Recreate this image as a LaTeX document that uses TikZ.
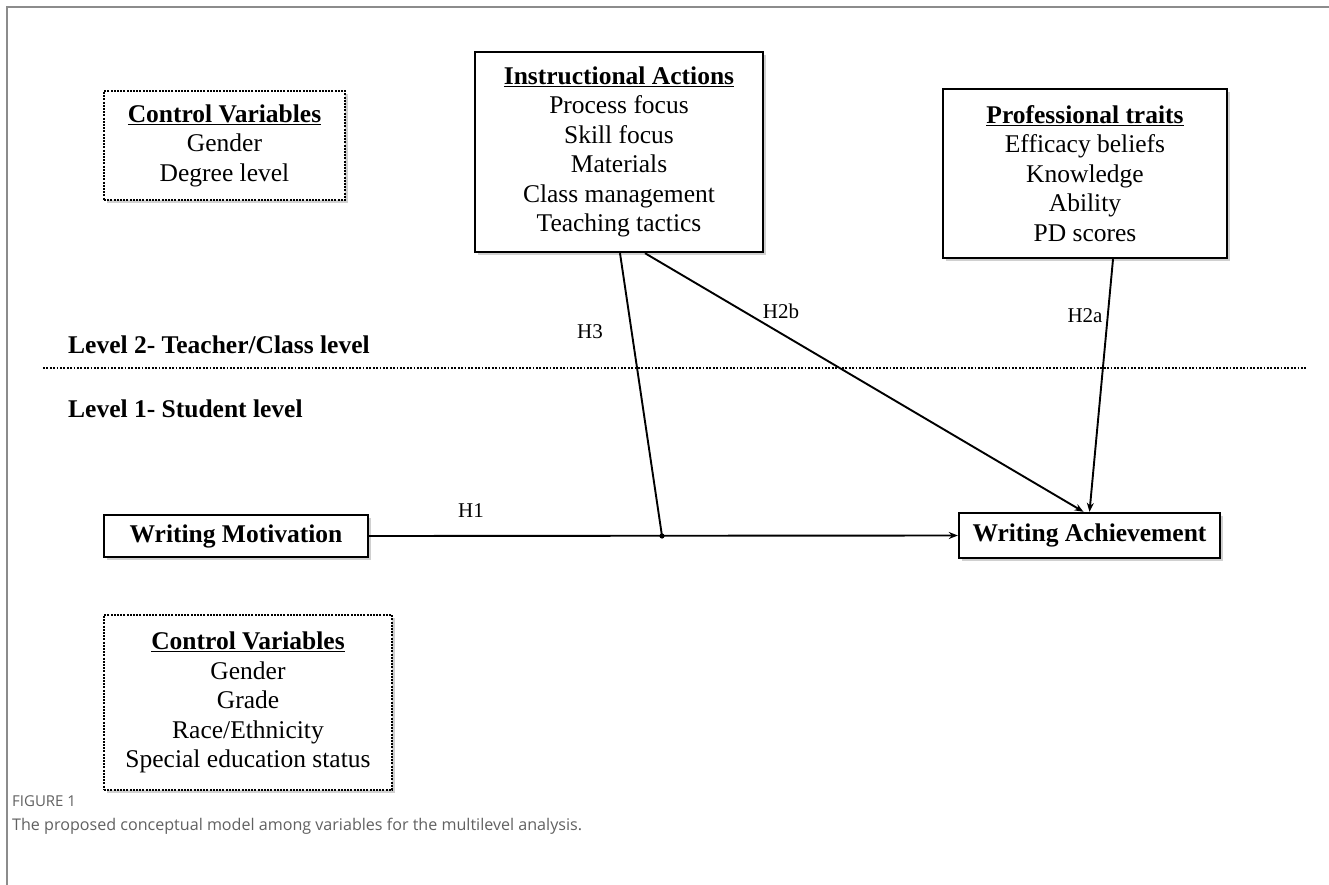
\documentclass[tikz,border=0pt]{standalone}
\usepackage{fontspec}
\setmainfont{Liberation Serif}
\newfontfamily\capfont{Open Sans}
\usetikzlibrary{arrows.meta,shadows,calc}
\tikzset{
  diagtext/.style={font=\fontsize{25.5}{29.5}\selectfont, align=center, inner sep=0pt},
  shad/.style={drop shadow={shadow xshift=3pt, shadow yshift=-3pt, opacity=0.3, fill=black!60}},
  solidbox/.style={diagtext, draw, line width=2.4pt, fill=white, shad},
  dashbox/.style={diagtext, draw, line width=2.4pt, dash pattern=on 2pt off 1.2pt, fill=white, shad},
  conn/.style={line width=1.9pt, -{Stealth[length=9pt,width=7pt]}},
  plainconn/.style={line width=1.9pt},
  hlab/.style={font=\fontsize{21}{24}\selectfont, inner sep=0pt},
  lvl/.style={font=\fontsize{25.5}{29}\selectfont\bfseries, inner sep=0pt, anchor=base west},
  frameline/.style={draw=black!45, line width=1.6pt}
}
\begin{document}
\begin{tikzpicture}[x=1pt,y=-1pt]
\useasboundingbox (0,0) rectangle (1329,885);
\fill[white] (0,0) rectangle (1329,885);
% frame
\draw[frameline] (7,885) -- (7,7) -- (1329,7);

% nodes
\node[dashbox, minimum width=241pt, minimum height=109pt] (cvt) at (224.5,145.5)
  {\textbf{\underline{Control Variables}}\\Gender\\Degree level};
\node[solidbox, minimum width=288pt, minimum height=200pt] (ia) at (619,152)
  {\textbf{\underline{Instructional Actions}}\\Process focus\\Skill focus\\Materials\\Class management\\Teaching tactics};
\node[solidbox, minimum width=284pt, minimum height=169pt] (pt) at (1085,173.5)
  {\textbf{\underline{Professional traits}}\\Efficacy beliefs\\Knowledge\\Ability\\PD scores};

\node[lvl] (l2) at (68,353) {Level 2- Teacher/Class level};
\node[lvl] (l1) at (68,417) {Level 1- Student level};
\coordinate (dl) at (43,368);
\coordinate (dr) at (1307,368);
\draw[line width=1.8pt, dash pattern=on 1.8pt off 1.6pt] (dl) -- (dr);

\node[solidbox, minimum width=264pt, minimum height=42pt] (wm) at (236,536)
  {\bfseries Writing Motivation};
\node[solidbox, minimum width=261pt, minimum height=45pt] (wa) at (1089.5,535.5)
  {\bfseries Writing Achievement};

\node[dashbox, minimum width=288pt, minimum height=175pt] (cvb) at (248,702.5)
  {\textbf{\underline{Control Variables}}\\Gender\\Grade\\Race/Ethnicity\\Special education status};

% connectors
\coordinate (j) at (662,536);
\draw[conn] (wm.east) -- (wa.west);
\draw[plainconn] ([xshift=1pt]ia.south) -- (j);
\fill (j) circle (2.6pt);
\draw[conn] ([xshift=26pt]ia.south) -- ([xshift=-6pt]wa.north);
\draw[conn] ([xshift=28pt]pt.south) -- ([xshift=0pt]wa.north);

% labels
\node[hlab] (h1) at (471,511) {H1};
\node[hlab] (h3) at (590,332) {H3};
\node[hlab] (h2b) at (781,311) {H2b};
\node[hlab] (h2a) at (1085,316) {H2a};

% caption
\node[font=\capfont\fontsize{15}{17}\selectfont, text=black!62, anchor=base west, inner sep=0pt] (fig) at (12,806) {FIGURE 1};
\node[font=\capfont\fontsize{16.1}{19}\selectfont, text=black!62, anchor=base west, inner sep=0pt] (cap) at (12,830) {The proposed conceptual model among variables for the multilevel analysis.};
\end{tikzpicture}
\end{document}
